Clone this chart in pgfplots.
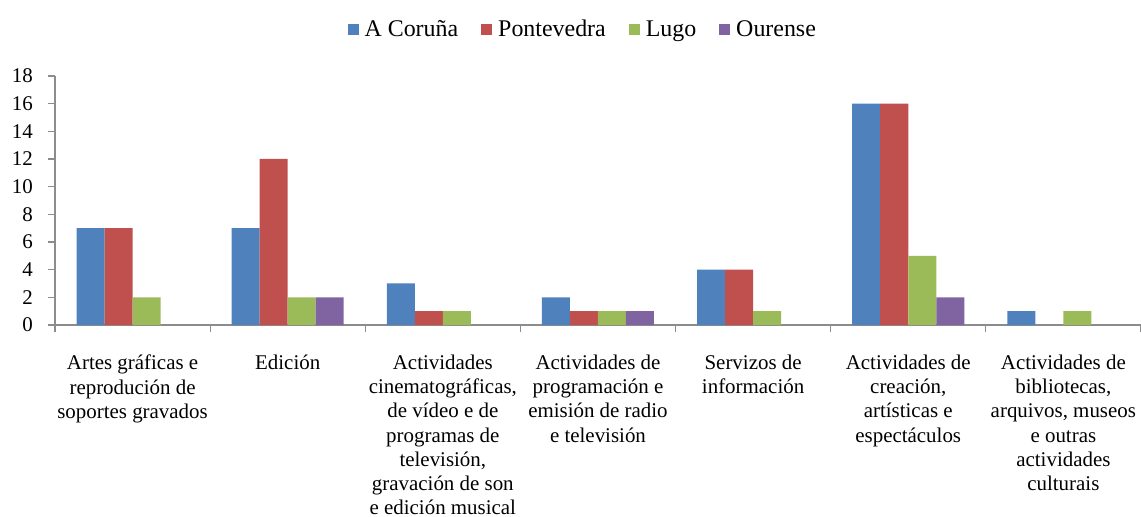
\documentclass[border=0pt]{standalone}
\usepackage{fontspec}
\setmainfont{Liberation Serif}
\usepackage{pgfplots}
\pgfplotsset{compat=1.18}
\definecolor{cA}{HTML}{4F81BD}
\definecolor{cB}{HTML}{C0504D}
\definecolor{cC}{HTML}{9BBB59}
\definecolor{cD}{HTML}{8064A2}
\definecolor{axgray}{HTML}{8C8C8C}
\begin{document}
\fontsize{21}{24}\selectfont
\begin{tikzpicture}
\begin{axis}[
  at={(55bp,192bp)}, anchor=south west,
  scale only axis, width=1086bp, height=249bp,
  xmin=-0.5, xmax=6.5, ymin=0, ymax=18,
  ybar=0pt, bar width=28bp,
  axis x line*=bottom, axis y line*=left,
  axis line style={draw=axgray, line width=1.3bp, -},
  every tick/.style={draw=axgray, line width=1.1bp},
  tick align=outside,
  major tick length=7bp,
  ytick={0,2,...,18},
  xtick={-0.5,0.5,...,6.5},
  x tick label as interval,
  xticklabels={
    {Artes gráficas e\\reprodución de\\soportes gravados},
    {Edición},
    {Actividades\\cinematográficas,\\de vídeo e de\\programas de\\televisión,\\gravación de son\\e edición musical},
    {Actividades de\\programación e\\emisión de radio\\e televisión},
    {Servizos de\\información},
    {Actividades de\\creación,\\artísticas e\\espectáculos},
    {Actividades de\\bibliotecas,\\arquivos, museos\\e outras\\actividades\\culturais}},
  xticklabel style={align=center, anchor=north, inner sep=0pt, yshift=-23bp, font=\fontsize{21}{24.2}\selectfont},
  yticklabel style={anchor=east, inner sep=0pt, xshift=-15bp, font=\fontsize{21}{24}\selectfont},
  /pgf/number format/assume math mode=true,
  legend style={at={(0.486,1.185)}, anchor=center, draw=none, fill=none,
    legend columns=-1, font=\fontsize{24}{27}\selectfont,
    /tikz/every even column/.append style={column sep=21bp},
    /tikz/every odd column/.append style={column sep=4bp}},
  legend image code/.code={\fill[#1] (0bp,-5.5bp) rectangle (11bp,5.5bp);},
  clip=false,
]
\addplot[fill=cA, draw=none] coordinates {(0,7) (1,7) (2,3) (3,2) (4,4) (5,16) (6,1)};
\addplot[fill=cB, draw=none] coordinates {(0,7) (1,12) (2,1) (3,1) (4,4) (5,16)};
\addplot[fill=cC, draw=none] coordinates {(0,2) (1,2) (2,1) (3,1) (4,1) (5,5) (6,1)};
\addplot[fill=cD, draw=none] coordinates {(1,2) (3,1) (5,2)};
\legend{A Coruña, Pontevedra, Lugo, Ourense}
\end{axis}
\pgfresetboundingbox
\useasboundingbox (0,0) rectangle (1141bp,517bp);
\end{tikzpicture}
\end{document}
